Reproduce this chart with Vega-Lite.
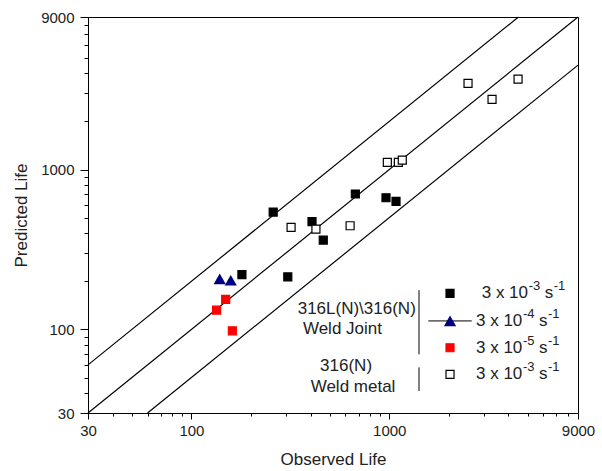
{
  "$schema": "https://vega.github.io/schema/vega-lite/v6.json",
  "autosize": {"type": "none"},
  "width": 490,
  "height": 396,
  "padding": {"left": 88, "top": 17, "right": 24, "bottom": 58},
  "background": "white",
  "config": {
    "view": {"stroke": "#000", "strokeWidth": 1},
    "font": "Liberation Sans",
    "axis": {"grid": false, "domainColor": "#000", "tickColor": "#000", "labelColor": "#222", "titleColor": "#222", "labelFont": "Liberation Sans", "titleFont": "Liberation Sans", "titleFontWeight": "normal", "labelFontSize": 15, "titleFontSize": 17, "labelFlush": false, "labelOverlap": false}
  },
  "datasets": {
    "points": [
      {"series": "J3", "obs": 259, "pred": 542},
      {"series": "J3", "obs": 407, "pred": 472},
      {"series": "J3", "obs": 464, "pred": 362},
      {"series": "J3", "obs": 674, "pred": 703},
      {"series": "J3", "obs": 963, "pred": 666},
      {"series": "J3", "obs": 1082, "pred": 632},
      {"series": "J3", "obs": 180, "pred": 220},
      {"series": "J3", "obs": 307, "pred": 213},
      {"series": "J4", "obs": 139, "pred": 207},
      {"series": "J4", "obs": 158, "pred": 203},
      {"series": "J5", "obs": 134, "pred": 132},
      {"series": "J5", "obs": 149, "pred": 154},
      {"series": "J5", "obs": 161, "pred": 98},
      {"series": "W3", "obs": 2502, "pred": 3459},
      {"series": "W3", "obs": 3309, "pred": 2748},
      {"series": "W3", "obs": 4479, "pred": 3681},
      {"series": "W3", "obs": 978, "pred": 1109},
      {"series": "W3", "obs": 1112, "pred": 1109},
      {"series": "W3", "obs": 1164, "pred": 1146},
      {"series": "W3", "obs": 634, "pred": 445},
      {"series": "W3", "obs": 426, "pred": 424},
      {"series": "W3", "obs": 319, "pred": 435},
      {"series": "J3", "obs": 2029, "pred": 168, "key": true},
      {"series": "J4", "obs": 2029, "pred": 113, "key": true},
      {"series": "J5", "obs": 2029, "pred": 76.8, "key": true},
      {"series": "W3", "obs": 2029, "pred": 52.4, "key": true}
    ],
    "bands": [
      {"band": "upper", "obs": 30, "pred": 60},
      {"band": "upper", "obs": 4500, "pred": 9000},
      {"band": "equal", "obs": 30, "pred": 30},
      {"band": "equal", "obs": 9000, "pred": 9000},
      {"band": "lower", "obs": 60, "pred": 30},
      {"band": "lower", "obs": 9000, "pred": 4500}
    ],
    "legend": [
      {"series": "J3", "pred": 168, "tx": 2934, "base": "3 x 10", "exp": "-3"},
      {"series": "J4", "pred": 113, "tx": 2745, "base": "3 x 10", "exp": "-4"},
      {"series": "J5", "pred": 76.8, "tx": 2745, "base": "3 x 10", "exp": "-5"},
      {"series": "W3", "pred": 52.4, "tx": 2745, "base": "3 x 10", "exp": "-3"}
    ],
    "groups": [
      {"label": "316L(N)\\316(N)", "obs": 685, "pred": 133.6},
      {"label": "Weld Joint", "obs": 580, "pred": 100.6},
      {"label": "316(N)", "obs": 605, "pred": 59},
      {"label": "Weld metal", "obs": 656, "pred": 43.8}
    ],
    "brackets": [
      {"obs": 1414, "pred": 176, "pred2": 69.9},
      {"obs": 1414, "pred": 57.9, "pred2": 41.2}
    ],
    "legendline": [
      {"obs": 1576, "obs2": 2612, "pred": 113}
    ]
  },
  "encoding": {
    "x": {"field": "obs", "type": "quantitative", "title": "Observed Life",
      "scale": {"type": "log", "domain": [30, 9000], "nice": false},
      "axis": {
        "values": [30,40,50,60,70,80,90,100,200,300,400,500,600,700,800,900,1000,2000,3000,4000,5000,6000,7000,8000,9000],
        "labelExpr": "(datum.value==30||datum.value==100||datum.value==1000||datum.value==9000) ? format(datum.value,'d') : ''",
        "tickSize": {"condition": {"test": "datum.value==30||datum.value==100||datum.value==1000||datum.value==9000", "value": 6}, "value": 3},
        "labelPadding": 4, "titlePadding": 13
      }
    },
    "y": {"field": "pred", "type": "quantitative", "title": "Predicted Life",
      "scale": {"type": "log", "domain": [30, 9000], "nice": false},
      "axis": {
        "values": [30,40,50,60,70,80,90,100,200,300,400,500,600,700,800,900,1000,2000,3000,4000,5000,6000,7000,8000,9000],
        "labelExpr": "(datum.value==30||datum.value==100||datum.value==1000||datum.value==9000) ? format(datum.value,'d') : ''",
        "tickSize": {"condition": {"test": "datum.value==30||datum.value==100||datum.value==1000||datum.value==9000", "value": 8}, "value": 4},
        "labelPadding": 6, "titlePadding": 10
      }
    }
  },
  "layer": [
    {
      "data": {"name": "bands"},
      "mark": {"type": "line", "color": "#000", "strokeWidth": 1.2},
      "encoding": {"detail": {"field": "band"}}
    },
    {
      "data": {"name": "legendline"},
      "mark": {"type": "rule", "color": "#000", "strokeWidth": 1},
      "encoding": {"x2": {"field": "obs2"}}
    },
    {
      "data": {"name": "brackets"},
      "mark": {"type": "rule", "color": "#000", "strokeWidth": 1},
      "encoding": {"y2": {"field": "pred2"}}
    },
    {
      "data": {"name": "points"},
      "transform": [{"filter": "datum.series != 'J4'"}],
      "mark": {"type": "point", "shape": "square", "size": 64, "filled": false, "opacity": 1, "strokeWidth": 1.2},
      "encoding": {
        "fill": {"field": "series", "scale": {"domain": ["J3","J4","J5","W3"], "range": ["#000000","#000080","#ff0000","#ffffff"]}, "legend": null},
        "stroke": {"field": "series", "scale": {"domain": ["J3","J4","J5","W3"], "range": ["#000000","#000080","#ff0000","#000000"]}, "legend": null}
      }
    },
    {
      "data": {"name": "points"},
      "transform": [{"filter": "datum.series == 'J4'"}],
      "mark": {"type": "point", "shape": "triangle-up", "size": 150, "filled": true, "opacity": 1, "color": "#000080"}
    },
    {
      "data": {"name": "legend"},
      "mark": {"type": "text", "align": "left", "baseline": "middle", "fontSize": 17, "color": "#222", "font": "Liberation Sans"},
      "encoding": {"x": {"field": "tx", "type": "quantitative"}, "text": {"field": "base"}}
    },
    {
      "data": {"name": "legend"},
      "mark": {"type": "text", "align": "left", "baseline": "middle", "fontSize": 13, "dx": 47, "dy": -7, "color": "#222", "font": "Liberation Sans"},
      "encoding": {"x": {"field": "tx", "type": "quantitative"}, "text": {"field": "exp"}}
    },
    {
      "data": {"name": "legend"},
      "mark": {"type": "text", "align": "left", "baseline": "middle", "fontSize": 17, "dx": 63, "color": "#222", "font": "Liberation Sans", "text": "s"},
      "encoding": {"x": {"field": "tx", "type": "quantitative"}}
    },
    {
      "data": {"name": "legend"},
      "mark": {"type": "text", "align": "left", "baseline": "middle", "fontSize": 13, "dx": 72, "dy": -7, "color": "#222", "font": "Liberation Sans", "text": "-1"},
      "encoding": {"x": {"field": "tx", "type": "quantitative"}}
    },
    {
      "data": {"name": "groups"},
      "mark": {"type": "text", "align": "center", "baseline": "middle", "fontSize": 17, "color": "#222", "font": "Liberation Sans"},
      "encoding": {"text": {"field": "label"}}
    }
  ]
}
